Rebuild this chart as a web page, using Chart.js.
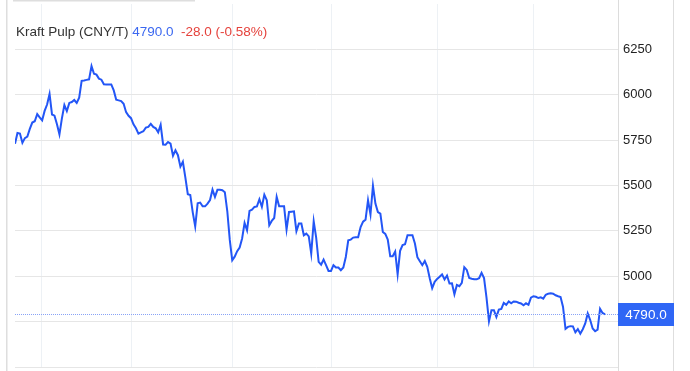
<!DOCTYPE html>
<html>
<head>
<meta charset="utf-8">
<script src="https://cdn.jsdelivr.net/npm/chart.js@4"></script>
<style>
  html, body { margin: 0; padding: 0; background: #fff; }
  #wrap { width: 690px; height: 371px; position: relative; }
</style>
</head>
<body>
<div id="wrap"><canvas id="pulp"></canvas></div>
<script>
// daily closing price, CNY per tonne
const prices = [
  5730, 5789, 5786, 5735, 5761, 5769, 5812, 5847, 5854, 5893,
  5875, 5859, 5911, 5946, 6004, 5891, 5885, 5837, 5782, 5870,
  5943, 5910, 5955, 5960, 5971, 5955, 5984, 6077, 6079, 6082,
  6085, 6158, 6116, 6111, 6089, 6083, 6058, 6057, 6057, 6057,
  6024, 5973, 5969, 5965, 5950, 5904, 5884, 5871, 5837, 5815,
  5786, 5793, 5799, 5819, 5823, 5840, 5823, 5815, 5793, 5834,
  5726, 5725, 5740, 5731, 5664, 5694, 5667, 5604, 5631, 5545,
  5452, 5448, 5352, 5275, 5402, 5406, 5385, 5385, 5400, 5420,
  5477, 5437, 5476, 5476, 5474, 5463, 5358, 5200, 5088, 5108,
  5138, 5158, 5208, 5294, 5253, 5360, 5367, 5382, 5385, 5424,
  5382, 5449, 5419, 5281, 5305, 5321, 5437, 5385, 5385, 5385,
  5257, 5354, 5356, 5358, 5248, 5290, 5290, 5226, 5235, 5220,
  5125, 5303, 5213, 5079, 5064, 5092, 5061, 5029, 5029, 5061,
  5048, 5048, 5033, 5048, 5106, 5198, 5202, 5213, 5215, 5215,
  5271, 5301, 5312, 5419, 5340, 5499, 5400, 5354, 5345, 5244,
  5233, 5202, 5110, 5110, 5136, 5011, 5140, 5172, 5176, 5226,
  5226, 5226, 5180, 5105, 5083, 5061, 5084, 5052, 4989, 4934,
  4969, 4985, 4997, 5010, 4982, 5004, 4960, 4961, 4901, 4952,
  4945, 4964, 5050, 5035, 4990, 4986, 4983, 4983, 4989, 5019,
  4990, 4882, 4752, 4813, 4813, 4776, 4816, 4820, 4853, 4843,
  4861, 4851, 4861, 4860, 4854, 4850, 4840, 4851, 4843, 4882,
  4890, 4887, 4880, 4884, 4877, 4898, 4904, 4906, 4904, 4895,
  4890, 4886, 4831, 4710, 4721, 4725, 4724, 4691, 4709, 4684,
  4708, 4740, 4795, 4759, 4712, 4697, 4706, 4821, 4798, 4790
];

// month boundaries (in trading-day index) where the vertical grid lines sit
const monthTicks = [10.9, 47.0, 88.0, 128.1, 171.1, 210.1];

const yTicks = [4500, 4750, 5000, 5250, 5500, 5750, 6000, 6250, 6500];
const shownTicks = [5000, 5250, 5500, 5750, 6000, 6250];

const lastPrice = 4790.0;
const change = -28.0;
const changePct = -0.58;

const lineBlue = '#2356f6';

const frame = {
  id: 'frame',
  beforeDraw(chart) {
    const c = chart.ctx;
    c.save();
    c.fillStyle = '#dedede';
    c.fillRect(6, 0, 1.5, chart.height);
    c.fillRect(673, 0, 1, chart.height);
    c.fillRect(13, 0, 182, 1.5);
    c.restore();
  },
  afterDraw(chart) {
    const c = chart.ctx;
    const area = chart.chartArea;
    const y = chart.scales.y;
    c.save();
    // axis line, full height
    c.fillStyle = '#dcdcdc';
    c.fillRect(area.right, 0, 1, chart.height);

    // dotted last-price line
    const py = Math.round(y.getPixelForValue(lastPrice)) + 0.5;
    c.strokeStyle = '#89a3f6';
    c.lineWidth = 1;
    c.setLineDash([1, 1]);
    c.beginPath();
    c.moveTo(area.left, py);
    c.lineTo(area.right, py);
    c.stroke();
    c.setLineDash([]);

    // price tag on the axis
    c.fillStyle = '#2f66f5';
    c.fillRect(area.right, py - 11.5, 56, 23);
    c.fillStyle = '#fff';
    c.font = '13.5px "Liberation Sans", Arial, sans-serif';
    c.textAlign = 'center';
    c.textBaseline = 'middle';
    c.fillText(lastPrice.toFixed(1), area.right + 28, py + 0.5);

    // header
    c.textAlign = 'left';
    let x = 16;
    const ty = 32;
    const parts = [
      ['Kraft Pulp (CNY/T) ', '#333333'],
      [lastPrice.toFixed(1) + '  ', '#3b68f0'],
      [change.toFixed(1) + ' (' + changePct.toFixed(2) + '%)', '#e5423c']
    ];
    parts.forEach(([txt, col]) => {
      c.fillStyle = col;
      c.fillText(txt, x, ty);
      x += c.measureText(txt).width;
    });
    c.restore();
  }
};

new Chart(document.getElementById('pulp'), {
  type: 'line',
  data: {
    datasets: [{
      data: prices.map((v, i) => ({ x: i, y: v })),
      borderColor: lineBlue,
      borderWidth: 2,
      pointRadius: 0,
      tension: 0,
      fill: false
    }]
  },
  options: {
    responsive: true,
    maintainAspectRatio: false,
    animation: false,
    layout: { padding: { left: 15, top: 4, bottom: 4, right: 0 } },
    plugins: { legend: { display: false }, tooltip: { enabled: false } },
    scales: {
      x: {
        type: 'linear',
        min: 0,
        max: (prices.length - 1) * 603 / 590,
        afterBuildTicks: (s) => { s.ticks = monthTicks.map(v => ({ value: v })); },
        afterFit: (s) => { s.height = 0; s.paddingLeft = 0; s.paddingRight = 0; },
        ticks: { display: false },
        grid: { color: '#edf1f5', drawTicks: false },
        border: { display: false }
      },
      y: {
        position: 'right',
        min: 4500,
        max: 6500,
        afterBuildTicks: (s) => { s.ticks = yTicks.map(v => ({ value: v })); },
        afterFit: (s) => { s.width = 72; s.paddingTop = 0; s.paddingBottom = 0; },
        ticks: {
          padding: 5,
          color: '#222',
          font: { size: 13, family: '"Liberation Sans", Arial, sans-serif' },
          callback: (v) => shownTicks.includes(v) ? String(v) : ''
        },
        grid: {
          color: (ctx) => ctx.tick && ctx.tick.value === 6500 ? 'rgba(0,0,0,0)' : '#e6e6e6',
          drawTicks: false
        },
        border: { display: false }
      }
    }
  },
  plugins: [frame]
});
</script>
</body>
</html>
